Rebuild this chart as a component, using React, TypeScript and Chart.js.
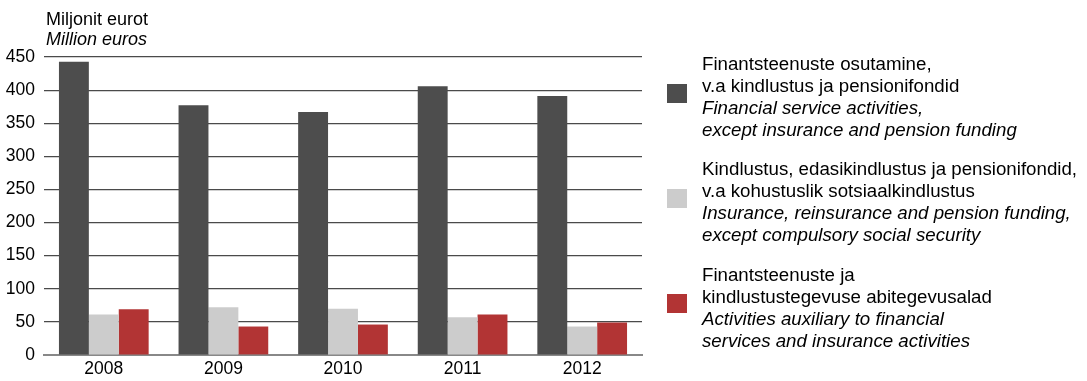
import React, { useEffect, useRef } from "react";
import { Chart, registerables } from "chart.js";

Chart.register(...registerables);

const years = ["2008", "2009", "2010", "2011", "2012"];
const financialServices = [443, 377, 367, 406, 391];
const insurancePension = [61, 72, 70, 57, 43];
const auxiliaryActivities = [69, 43, 46, 61, 49];

const seriesColors = ["#4d4d4d", "#cccccc", "#b23434"];
const legendEt = [
  ["Finantsteenuste osutamine,", "v.a kindlustus ja pensionifondid"],
  ["Kindlustus, edasikindlustus ja pensionifondid,", "v.a kohustuslik sotsiaalkindlustus"],
  ["Finantsteenuste ja", "kindlustustegevuse abitegevusalad"],
];
const legendEn = [
  ["Financial service activities,", "except insurance and pension funding"],
  ["Insurance, reinsurance and pension funding,", "except compulsory social security"],
  ["Activities auxiliary to financial", "services and insurance activities"],
];
const titleEt = "Miljonit eurot";
const titleEn = "Million euros";

const FONT = "'Liberation Sans', Arial, sans-serif";

const annotations = {
  id: "annotations",
  afterDraw(chart: any) {
    const ctx = chart.ctx;
    ctx.save();
    ctx.fillStyle = "#000";
    ctx.textAlign = "left";
    ctx.textBaseline = "alphabetic";
    ctx.font = `18px ${FONT}`;
    ctx.fillText(titleEt, 46, 25);
    ctx.font = `italic 18px ${FONT}`;
    ctx.fillText(titleEn, 46, 45);

    const blockTops = [69.5, 175, 280.5];
    const squareTops = [84, 189, 294];
    for (let i = 0; i < 3; i++) {
      ctx.fillStyle = chart.data.datasets[i].backgroundColor;
      ctx.fillRect(667, squareTops[i], 20, 19);
      ctx.fillStyle = "#000";
      const lines = [
        { t: legendEt[i][0], it: false },
        { t: legendEt[i][1], it: false },
        { t: legendEn[i][0], it: true },
        { t: legendEn[i][1], it: true },
      ];
      lines.forEach((l, j) => {
        ctx.font = `${l.it ? "italic " : ""}18.7px ${FONT}`;
        ctx.fillText(l.t, 702, blockTops[i] + j * 22);
      });
    }
    ctx.restore();
  },
};

export default function App() {
  const ref = useRef<HTMLCanvasElement | null>(null);
  useEffect(() => {
    if (!ref.current) return;
    const chart = new Chart(ref.current, {
      type: "bar",
      data: {
        labels: years,
        datasets: [
          { label: legendEt[0].join(" "), data: financialServices, backgroundColor: seriesColors[0] },
          { label: legendEt[1].join(" "), data: insurancePension, backgroundColor: seriesColors[1] },
          { label: legendEt[2].join(" "), data: auxiliaryActivities, backgroundColor: seriesColors[2] },
        ],
      },
      options: {
        animation: false,
        responsive: false,
        maintainAspectRatio: false,
        layout: { padding: { top: 57, right: 445, left: 0, bottom: 0 } },
        datasets: { bar: { categoryPercentage: 0.75, barPercentage: 1 } },
        plugins: { legend: { display: false }, tooltip: { enabled: false } },
        scales: {
          x: {
            grid: { display: false, drawTicks: false },
            border: { display: true, color: "#888888", width: 2 },
            ticks: { color: "#000", font: { family: FONT, size: 17.5 }, padding: 4 },
            afterFit: (s: any) => { s.height = 26; },
          },
          y: {
            min: 0,
            max: 450,
            ticks: { stepSize: 50, color: "#000", font: { family: FONT, size: 17.5 }, padding: 9 },
            grid: {
              drawTicks: false,
              color: (c: any) => (c.tick && c.tick.value === 0 ? "#888888" : "#4a4a4a"),
              lineWidth: 1.2,
            },
            border: { display: false },
            afterFit: (s: any) => { s.width = 44; },
          },
        },
      },
      plugins: [annotations],
    });
    return () => chart.destroy();
  }, []);
  return (
    <div style={{ position: "absolute", left: 0, top: 0, width: 1087, height: 381, background: "#fff" }}>
      <canvas ref={ref} width={1087} height={381} style={{ display: "block" }} />
    </div>
  );
}
